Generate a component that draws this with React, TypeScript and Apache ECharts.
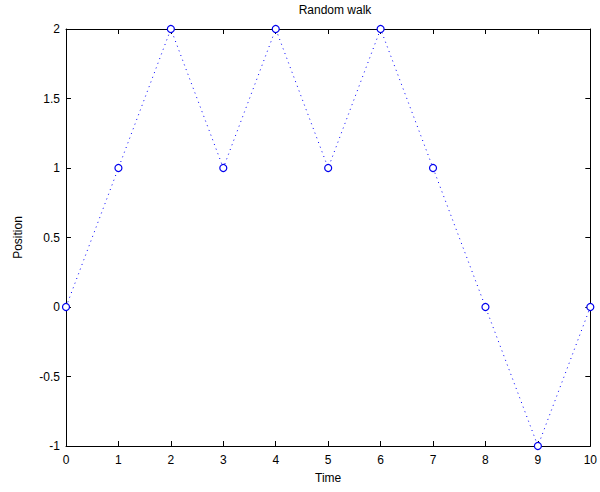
import React, { useEffect, useRef } from "react";
import * as echarts from "echarts";

const timeSteps = [0, 1, 2, 3, 4, 5, 6, 7, 8, 9, 10];
const positions = [0, 1, 2, 1, 2, 1, 2, 1, 0, -1, 0];
const titleText = "Random walk";
const xName = "Time";
const yName = "Position";

export default function App() {
  const ref = useRef<HTMLDivElement>(null);
  useEffect(() => {
    const chart = echarts.init(ref.current!, null, { renderer: "svg" });
    const font = "'Liberation Sans', Arial, sans-serif";
    const axisLine = { show: true, onZero: false, lineStyle: { color: "#000", width: 1 } };
    const tick = { show: true, inside: true, length: 5, lineStyle: { color: "#000" } };
    chart.setOption({
      animation: false,
      backgroundColor: "#fff",
      title: {
        text: titleText,
        left: 330,
        top: -1,
        textAlign: "center",
        textStyle: { fontSize: 12, fontWeight: "normal", color: "#000", fontFamily: font },
      },
      grid: { left: 66, right: 6, top: 29, bottom: 46 },
      xAxis: [
        {
          type: "value",
          min: 0,
          max: 10,
          interval: 1,
          name: xName,
          nameLocation: "middle",
          nameGap: 26,
          nameTextStyle: { fontSize: 12, color: "#000", fontFamily: font },
          axisLine,
          axisTick: tick,
          axisLabel: { fontSize: 12, color: "#000", fontFamily: font, margin: 8 },
          splitLine: { show: false },
        },
        {
          type: "value",
          position: "top",
          min: 0,
          max: 10,
          interval: 1,
          axisLine,
          axisTick: tick,
          axisLabel: { show: false },
          splitLine: { show: false },
        },
      ],
      yAxis: [
        {
          type: "value",
          min: -1,
          max: 2,
          interval: 0.5,
          name: yName,
          nameLocation: "middle",
          nameGap: 42,
          nameTextStyle: { fontSize: 12, color: "#000", fontFamily: font },
          axisLine,
          axisTick: tick,
          axisLabel: { fontSize: 12, color: "#000", fontFamily: font, margin: 6 },
          splitLine: { show: false },
        },
        {
          type: "value",
          position: "right",
          min: -1,
          max: 2,
          interval: 0.5,
          axisLine,
          axisTick: tick,
          axisLabel: { show: false },
          splitLine: { show: false },
        },
      ],
      series: [
        {
          type: "line",
          data: timeSteps.map((t, i) => [t, positions[i]]),
          symbol: "circle",
          symbolSize: 7,
          lineStyle: { color: "#0000ff", width: 1, type: [1, 4] },
          itemStyle: { color: "#fff", borderColor: "#0000ee", borderWidth: 1.2 },
          clip: false,
          z: 5,
        },
      ],
    });
    return () => chart.dispose();
  }, []);
  return (
    <div
      ref={ref}
      style={{ position: "fixed", left: 0, top: 0, width: 600, height: 492 }}
    />
  );
}
